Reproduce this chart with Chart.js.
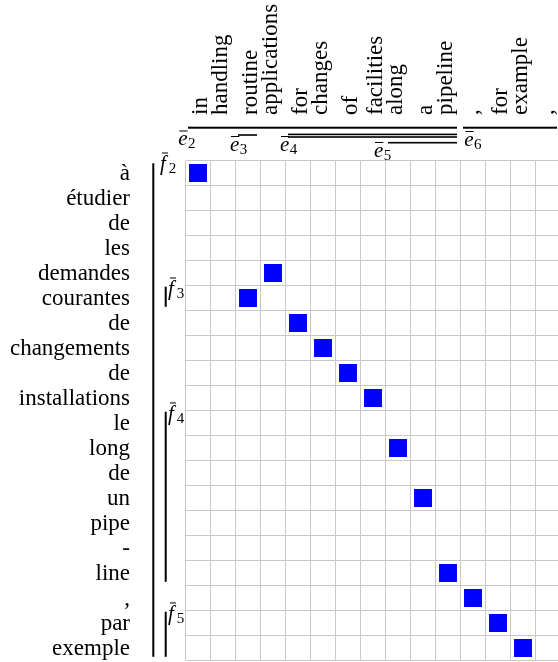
<!DOCTYPE html>
<html>
<head>
<meta charset="utf-8">
<script src="https://cdn.jsdelivr.net/npm/chart.js@4.4.1/dist/chart.umd.min.js"></script>
<style>
html, body { margin: 0; padding: 0; overflow: hidden; background: #fff; }
#chart { position: absolute; left: 0; top: 0; }
</style>
</head>
<body>
<canvas id="chart" width="570" height="662"></canvas>
<script>
// columns = english words, rows = french words
var enWords = ["in", "handling", "routine", "applications", "for", "changes", "of", "facilities", "along", "a", "pipeline", ",", "for", "example", ","];
var frWords = ["à", "étudier", "de", "les", "demandes", "courantes", "de", "changements", "de", "installations", "le", "long", "de", "un", "pipe", "-", "line", ",", "par", "exemple"];

// alignment links (column index, row index)
var alignCol = [0, 3, 2, 4, 5, 6, 7, 8, 9, 10, 11, 12, 13];
var alignRow = [0, 4, 5, 6, 7, 8, 9, 11, 13, 16, 17, 18, 19];

// english phrases, column spans (end not included)
var ePhrase = ["2", "3", "4", "", "5", "6"];
var eStart = [0, 2, 4, 4, 8, 11];
var eEnd = [11, 3, 11, 11, 11, 15];

// french phrases, row spans
var fPhrase = ["2", "3", "4", "5"];
var fStart = [0, 5, 10, 18];
var fEnd = [20, 6, 17, 20];

// where the phrase brackets go
var eLineY = [127.7, 135, 134.4, 137, 142.7, 127.7];
var eLabelDx = [-9.7, -8, -8, 0, -14, 1.3];
var eLabelY = [145, 150.5, 150.5, 0, 156.5, 145.5];
var fLineX = [153.3, 165.7, 165.7, 165.7];
var fLabelX = [160, 168, 168, 168];

var serif = '"Liberation Serif", "Times New Roman", serif';

function barred(ctx, letter, sub, x, base) {
    ctx.textAlign = 'left';
    ctx.textBaseline = 'alphabetic';
    ctx.font = 'italic 21px ' + serif;
    ctx.fillText(letter, x, base);
    var w = ctx.measureText(letter).width;
    if (letter == 'f') {
        ctx.fillRect(x + 2, base - 17.5, 6, 1);
        ctx.font = '15px ' + serif;
        ctx.fillText(sub, x + w + 3, base + 3);
    } else {
        ctx.fillRect(x + 1, base - 14.5, w - 1, 1);
        ctx.font = '15px ' + serif;
        ctx.fillText(sub, x + w + 0.5, base + 3);
    }
}

var labelsPlugin = {
    id: 'labels',
    afterDraw: function(chart) {
        var ctx = chart.ctx;
        var xs = chart.scales.x, ys = chart.scales.y;
        ctx.save();
        ctx.fillStyle = '#000';

        // french words on the left
        ctx.font = '23px ' + serif;
        ctx.textAlign = 'right';
        ctx.textBaseline = 'alphabetic';
        for (var i = 0; i < frWords.length; i++) {
            ctx.fillText(frWords[i], 130, ys.getPixelForValue(i + 0.5) + 7);
        }

        // english words on top, rotated
        ctx.textAlign = 'left';
        for (var j = 0; j < enWords.length; j++) {
            var m = ctx.measureText(enWords[j]);
            var off = 9 - Math.max(0, m.actualBoundingBoxDescent);
            ctx.save();
            ctx.translate(xs.getPixelForValue(j + 0.5) + off, 115);
            ctx.rotate(-Math.PI / 2);
            ctx.fillText(enWords[j], 0, 0);
            ctx.restore();
        }

        // english phrase brackets
        for (var k = 0; k < ePhrase.length; k++) {
            var x0 = xs.getPixelForValue(eStart[k]) + 2.5;
            var x1 = xs.getPixelForValue(eEnd[k]) - 3.5;
            var lw = eLineY[k] < 130 ? 2 : 1.6;
            ctx.fillRect(x0, eLineY[k] - lw / 2, x1 - x0, lw);
            if (ePhrase[k]) barred(ctx, 'e', ePhrase[k], x0 + eLabelDx[k], eLabelY[k]);
        }

        // french phrase brackets
        for (var n = 0; n < fPhrase.length; n++) {
            var y0 = ys.getPixelForValue(fStart[n]) + (n == 0 ? 2.8 : 1.2);
            var y1 = ys.getPixelForValue(fEnd[n]) - 3.7;
            ctx.fillRect(fLineX[n] - 1, y0, 2, y1 - y0);
            barred(ctx, 'f', fPhrase[n], fLabelX[n], ys.getPixelForValue(fStart[n]) + 9.5);
        }
        ctx.restore();
    }
};

var points = [];
for (var p = 0; p < alignCol.length; p++) {
    points.push({x: alignCol[p] + 0.5, y: alignRow[p] + 0.5});
}

var chart = new Chart('chart', {
    type: 'scatter',
    data: {
        datasets: [{
            data: points,
            pointStyle: 'rect',
            pointRadius: 12.7,
            pointHoverRadius: 12.7,
            backgroundColor: '#0000ff',
            borderWidth: 0
        }]
    },
    options: {
        responsive: false,
        animation: false,
        events: [],
        layout: {autoPadding: false, padding: {left: 185.5, top: 160.5, right: 9.5, bottom: 1.5}},
        plugins: {
            legend: {display: false},
            tooltip: {enabled: false}
        },
        scales: {
            x: {
                type: 'linear', position: 'top', min: 0, max: enWords.length,
                ticks: {display: false, stepSize: 1},
                grid: {color: '#c8c8c8', drawTicks: false},
                border: {display: false},
                afterFit: function(s) { s.height = 0; }
            },
            y: {
                type: 'linear', reverse: true, min: 0, max: frWords.length,
                ticks: {display: false, stepSize: 1},
                grid: {color: '#c8c8c8', drawTicks: false},
                border: {display: false},
                afterFit: function(s) { s.width = 0; }
            }
        }
    },
    plugins: [labelsPlugin]
});
</script>
</body>
</html>
